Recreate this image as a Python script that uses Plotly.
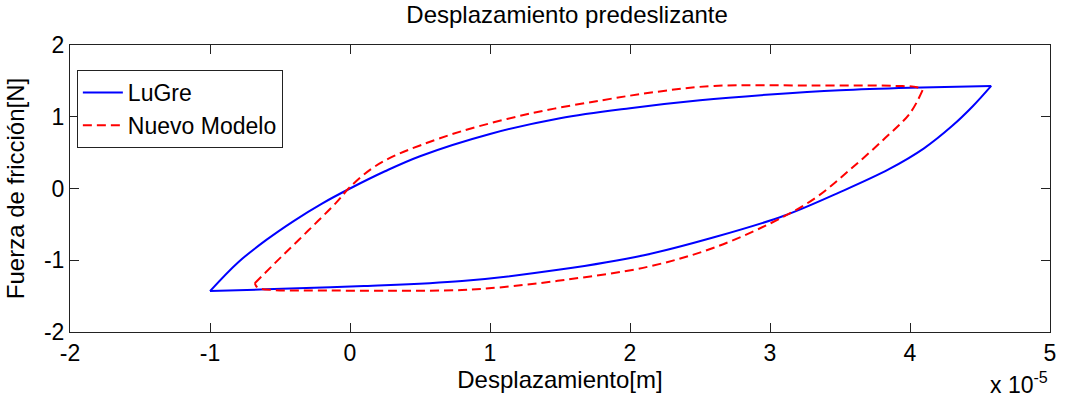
import plotly.graph_objects as go

# Displacement in units of 1e-5 m, friction force in N
# LuGre model: loading branch and unloading branch
lugre_up_x = [-1.0, -0.8, -0.6, -0.4, -0.2, 0.0, 0.25, 0.5, 1.0, 1.5, 2.0, 2.5, 3.0, 3.5, 4.0, 4.58]
lugre_up_y = [-1.43, -1.03, -0.72, -0.45, -0.21, 0.0, 0.24, 0.45, 0.76, 0.98, 1.12, 1.23, 1.31, 1.37, 1.405, 1.43]
lugre_down_x = [4.58, 4.45, 4.3, 4.1, 3.85, 3.5, 3.1, 2.6, 2.1, 1.5, 0.8, 0.1, -0.6, -1.0]
lugre_down_y = [1.43, 1.15, 0.87, 0.56, 0.27, -0.05, -0.38, -0.68, -0.93, -1.13, -1.29, -1.36, -1.405, -1.43]

# New model: loading branch and unloading branch
nuevo_up_x = [-0.68, -0.5, -0.3, -0.1, 0.0, 0.15, 0.3, 0.5, 0.8, 1.3, 1.8, 2.2, 2.6, 3.3, 3.9, 4.05, 4.09]
nuevo_up_y = [-1.32, -0.97, -0.59, -0.2, 0.02, 0.27, 0.44, 0.6, 0.8, 1.05, 1.23, 1.35, 1.43, 1.435, 1.43, 1.41, 1.37]
nuevo_down_x = [4.09, 4.0, 3.81, 3.57, 3.34, 3.1, 2.62, 2.13, 1.53, 1.06, 0.8, 0.3, -0.3, -0.55, -0.66, -0.68]
nuevo_down_y = [1.37, 1.05, 0.68, 0.26, -0.11, -0.39, -0.81, -1.09, -1.275, -1.38, -1.415, -1.425, -1.42, -1.415, -1.38, -1.32]

x_ticks = [-2, -1, 0, 1, 2, 3, 4, 5]
y_ticks = [-2, -1, 0, 1, 2]

FONT = "Liberation Sans, Arial, Helvetica, sans-serif"

fig = go.Figure()

def add_branch(xs, ys, name, color, dash, show):
    fig.add_trace(go.Scatter(
        x=xs, y=ys, mode="lines", name=name, legendgroup=name, showlegend=show,
        line=dict(color=color, width=2, dash=dash, shape="spline", smoothing=1.0),
    ))

add_branch(lugre_up_x, lugre_up_y, "LuGre", "#0000ff", "solid", True)
add_branch(lugre_down_x, lugre_down_y, "LuGre", "#0000ff", "solid", False)
add_branch(nuevo_up_x, nuevo_up_y, "Nuevo Modelo", "#ff0000", "9px,5px", True)
add_branch(nuevo_down_x, nuevo_down_y, "Nuevo Modelo", "#ff0000", "9px,5px", False)

tick_font = dict(family=FONT, size=23, color="black")
label_font = dict(family=FONT, size=24, color="black")

fig.update_layout(
    width=1068, height=403,
    margin=dict(l=70, r=14, t=45, b=71),
    paper_bgcolor="white", plot_bgcolor="white",
    font=dict(family=FONT, color="black"),
    title=dict(text="Desplazamiento predeslizante", x=0.531, xanchor="center",
               y=0.985, yanchor="top", font=dict(family=FONT, size=24, color="black")),
    xaxis=dict(
        range=[-2, 5], tickmode="array", tickvals=x_ticks,
        ticktext=[str(v) for v in x_ticks], tickfont=tick_font,
        ticks="inside", ticklen=9, tickcolor="#222", showgrid=False, zeroline=False,
        showline=True, linecolor="#222", linewidth=1, mirror="ticks",
        title=dict(text="Desplazamiento[m]", standoff=0, font=label_font),
    ),
    yaxis=dict(
        range=[-2, 2], tickmode="array", tickvals=y_ticks,
        ticktext=[str(v) for v in y_ticks], tickfont=tick_font,
        ticks="inside", ticklen=9, tickcolor="#222", showgrid=False, zeroline=False,
        showline=True, linecolor="#222", linewidth=1, mirror="ticks",
        title=dict(text="Fuerza de fricción[N]", standoff=12, font=label_font),
    ),
    legend=dict(
        x=0.007, y=0.913, xanchor="left", yanchor="top",
        bgcolor="white", bordercolor="#222", borderwidth=1,
        font=dict(family=FONT, size=23, color="black"),
        tracegroupgap=0, itemwidth=40,
    ),
    annotations=[dict(
        text="x 10<sup>-5</sup>", xref="paper", yref="paper", x=1.0, y=-0.12,
        xanchor="right", yanchor="top", showarrow=False,
        font=dict(family=FONT, size=23, color="black"),
    )],
    showlegend=True,
)

fig.write_html("out.html")
